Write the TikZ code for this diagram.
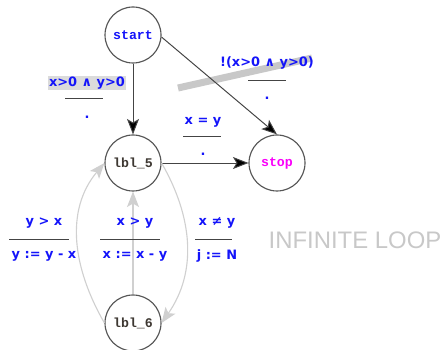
\documentclass[tikz,border=0pt]{standalone}
\usepackage{fontspec}
\usetikzlibrary{arrows.meta, positioning, calc}
\newfontfamily\statefont{Liberation Mono}
\newfontfamily\guardfont{DejaVu Sans}
\newfontfamily\notefont{Liberation Sans}
\definecolor{guardc}{RGB}{20,20,250}
\definecolor{stopc}{RGB}{250,0,250}
\definecolor{lblc}{RGB}{62,56,50}
\definecolor{ringc}{RGB}{85,85,85}
\definecolor{edgec}{RGB}{68,68,68}
\definecolor{loopc}{RGB}{208,208,208}
\definecolor{markc}{RGB}{200,200,200}
\tikzset{
  state/.style={
    circle, draw=ringc, line width=0.8pt, fill=white,
    minimum size=1.4cm, inner sep=0pt,
    font=\statefont\bfseries\fontsize{9.4}{10}\selectfont, text=lblc
  },
  guard/.style={font=\guardfont\bfseries\fontsize{9.2}{11}\selectfont, text=guardc, inner sep=1pt},
  bar/.style={draw=edgec, line width=0.7pt},
  arr/.style={-{Stealth[length=11pt, width=8.5pt, inset=2.5pt, fill=black]}, draw=edgec, line width=0.7pt},
  larr/.style={-{Stealth[length=11pt, width=8.5pt, inset=2.5pt]}, draw=loopc, line width=0.8pt},
  hl/.style={fill=markc!65, inner sep=0.5pt},
}
\begin{document}
\begin{tikzpicture}
  \useasboundingbox (0,0) rectangle (11.075,-8.75);

  % gray stroke under the negated guard
  \draw[markc, line width=5pt] (4.45,-2.2) -- (7.8,-1.45);

  \node[state, text=guardc] (start) at (3.325,-0.875) {start};
  \node[state] (lbl5) at (3.325,-4.075) {lbl\_5};
  \node[state, text=stopc] (stop) at (6.925,-4.075) {stop};
  \node[state] (lbl6) at (3.325,-8.075) {lbl\_6};

  \draw[arr] (start) -- (lbl5);
  \draw[arr] (start.-4) -- (stop.north);
  \draw[arr] (lbl5) -- (stop);
  \draw[larr] (lbl6) -- (lbl5);
  \draw[larr] (lbl6.west) to[out=120, in=-130] (lbl5.west);
  \draw[larr] (lbl5.east) to[out=-60, in=55] (lbl6.east);

  % start -> lbl_5
  \node[guard, hl] (g1) at (2.175,-2.075) {x>0 ∧ y>0};
  \draw[bar] (1.625,-2.45) -- (2.575,-2.45);
  \node[guard] (u1) at (2.175,-2.925) {.};

  % start -> stop
  \node[guard] (g2) at (6.675,-1.575) {!(x>0 ∧ y>0)};
  \draw[bar] (6.2,-2.0) -- (7.15,-2.0);
  \node[guard] (u2) at (6.675,-2.45) {.};

  % lbl_5 -> stop
  \node[guard] (g3) at (5.075,-3.05) {x = y};
  \draw[bar] (4.575,-3.4) -- (5.525,-3.4);
  \node[guard] (u3) at (5.075,-3.85) {.};

  % the three loop edges
  \node[guard] (g4) at (1.1,-5.575) {y > x};
  \draw[bar] (0.225,-5.975) -- (1.725,-5.975);
  \node[guard] (u4) at (1.1,-6.4) {y := y - x};

  \node[guard] (g5) at (3.375,-5.575) {x > y};
  \draw[bar] (2.5,-5.975) -- (4.0,-5.975);
  \node[guard] (u5) at (3.375,-6.4) {x := x - y};

  \node[guard] (g6) at (5.425,-5.575) {x ≠ y};
  \draw[bar] (4.875,-5.975) -- (5.8,-5.975);
  \node[guard] (u6) at (5.425,-6.4) {j := N};

  \node[font=\notefont\fontsize{17}{20}\selectfont, text=markc, inner sep=0pt] (note) at (8.875,-6.0) {INFINITE LOOP};

\end{tikzpicture}
\end{document}
